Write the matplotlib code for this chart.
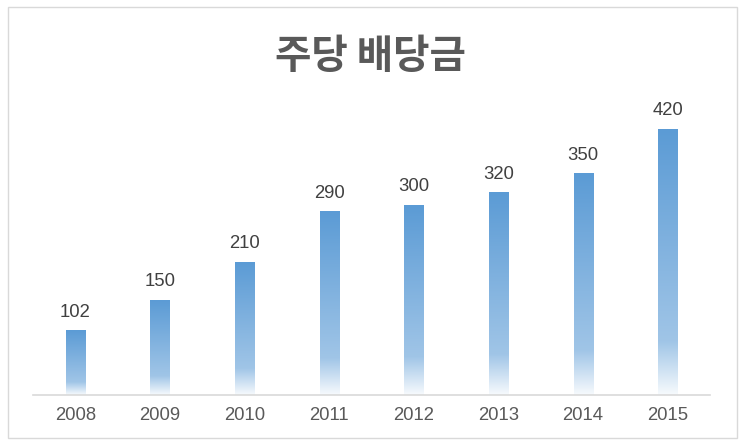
import numpy as np
import matplotlib
matplotlib.use("Agg")
from matplotlib import pyplot as plt
from matplotlib.colors import LinearSegmentedColormap
from matplotlib.patches import Rectangle

years = ["2008", "2009", "2010", "2011", "2012", "2013", "2014", "2015"]
dividends = [102, 150, 210, 290, 300, 320, 350, 420]

BAR_WIDTH = 0.225
# bottom of bar -> top of bar
grad = LinearSegmentedColormap.from_list(
    "bar", [(0.0, "#f7fafd"), (0.2, "#a0c5e7"), (1.0, "#5b9bd5")])

fig = plt.figure(figsize=(7.45, 4.45), dpi=100)
fig.patches.append(Rectangle((8 / 745, 7 / 445), 729 / 745, 431 / 445,
                             transform=fig.transFigure, fill=False,
                             edgecolor="#d9d9d9", linewidth=1))

ax = fig.add_axes([33 / 745, 50 / 445, 677 / 745, 305 / 445])

img = np.linspace(0, 1, 256).reshape(-1, 1)
for i, v in enumerate(dividends):
    ax.imshow(img, cmap=grad, origin="lower", aspect="auto",
              extent=(i - BAR_WIDTH / 2, i + BAR_WIDTH / 2, 0, v),
              interpolation="bilinear", zorder=2)
    ax.annotate(str(v), (i, v), xytext=(0, 7), textcoords="offset points",
                ha="center", va="bottom", fontsize=13.3,
                family="Liberation Sans", color="#404040")

ax.set_xlim(-0.5, len(years) - 0.5)
ax.set_ylim(0, 305 / 0.633)
ax.set_xticks(range(len(years)))
ax.set_xticklabels(years, family="Liberation Sans", fontsize=13.3, color="#595959")
ax.tick_params(axis="x", length=0, pad=9)
ax.set_yticks([])
for side in ["left", "right", "top"]:
    ax.spines[side].set_visible(False)
ax.spines["bottom"].set_color("#d9d9d9")
ax.spines["bottom"].set_linewidth(1.2)

fig.text(0.497, 1 - 56 / 445, "주당 배당금", ha="center", va="center",
         family=["Noto Sans CJK KR", "DejaVu Sans"], fontweight="bold",
         fontsize=28.5, color="#595959")

fig.savefig("out.png", dpi=100)
